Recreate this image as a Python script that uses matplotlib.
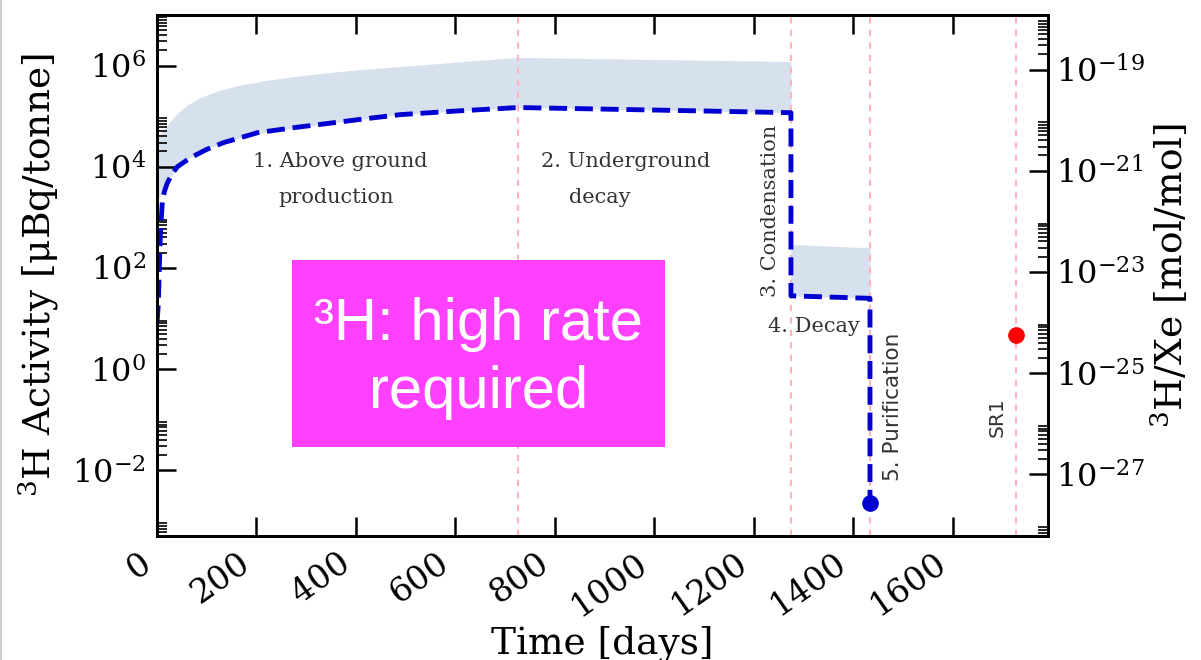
import matplotlib.pyplot as plt
import numpy as np
from matplotlib.patches import Rectangle
from matplotlib.lines import Line2D
from matplotlib.ticker import FixedLocator, LogFormatterSciNotation, NullFormatter

plt.rcParams['font.family'] = 'DejaVu Serif'
plt.rcParams['mathtext.fontset'] = 'dejavuserif'

# activity [uBq/tonne] -> 3H/Xe [mol/mol]
act_to_ratio = 1.2e-25

# best estimate, dashed curve
t_line = [0, 2, 3, 5, 7, 11, 16, 21, 30, 41, 67, 100, 134, 170, 202, 280, 355,
          420, 489, 600, 727, 1000, 1275, 1275, 1434, 1434]
act_line = [8, 15, 23, 130, 490, 2200, 3500, 4800, 7100, 1.0e4, 1.5e4, 2.2e4,
            3.0e4, 3.8e4, 4.7e4, 6.0e4, 7.4e4, 8.9e4, 1.07e5, 1.26e5, 1.48e5,
            1.32e5, 1.17e5, 28, 25, 2.2e-3]

# uncertainty band, phases 1-2
t_band1 = [0, 5, 15, 27, 40, 61, 85, 122, 170, 222, 290, 355, 420, 489, 600,
           727, 1000, 1275]
band1_lo = [2.0e3, 2.5e3, 4.0e3, 6.0e3, 9.5e3, 1.41e4, 1.91e4, 2.75e4, 3.8e4,
            4.9e4, 6.0e4, 7.4e4, 8.9e4, 1.07e5, 1.26e5, 1.48e5, 1.32e5, 1.17e5]
band1_hi = [3.16e4, 4.17e4, 5.75e4, 7.94e4, 1.12e5, 1.66e5, 2.29e5, 3.16e5,
            4.17e5, 5.13e5, 6.31e5, 7.41e5, 8.51e5, 9.55e5, 1.17e6, 1.45e6,
            1.32e6, 1.20e6]

# uncertainty band, phase 4
t_band2 = [1275, 1434]
band2_lo = [28, 25]
band2_hi = [290, 250]

# phase boundaries
t_phase = [727, 1275, 1434, 1727]

# end of purification and SR1 measurement
t_purified, act_purified = 1434, 2.2e-3
t_sr1, act_sr1 = 1727, 4.7

xticks = [0, 200, 400, 600, 800, 1000, 1200, 1400, 1600]

fig = plt.figure(figsize=(12.01, 6.6), dpi=100)
ax = fig.add_axes([0.1307, 0.1879, 0.7419, 0.7894])

ax.fill_between(t_band1, band1_lo, band1_hi, color='lightsteelblue', alpha=0.5, lw=0)
ax.fill_between(t_band2, band2_lo, band2_hi, color='lightsteelblue', alpha=0.5, lw=0)
ax.plot(t_line, act_line, color='#0000d0', lw=3.5, ls='--', zorder=3)
ax.plot([t_purified], [act_purified], 'o', color='#0000d0', ms=11, zorder=4)
ax.plot([t_sr1], [act_sr1], 'o', color='red', ms=11, zorder=4)
for tp in t_phase:
    ax.axvline(tp, color='#ffb3bd', lw=1.5, ls=(0, (3, 3)), zorder=1)

txt = dict(color='#333333', fontsize=15)
ax.text(369, 1.26e4, "1. Above ground", ha='center', va='center', **txt)
ax.text(361, 2.44e3, "production", ha='center', va='center', **txt)
ax.text(942, 1.26e4, "2. Underground", ha='center', va='center', **txt)
ax.text(891, 2.44e3, "decay", ha='center', va='center', **txt)
ax.text(1233, 1.35e3, "3. Condensation", rotation=90, ha='center', va='center', **txt)
ax.text(1322, 6.8, "4. Decay", ha='center', va='center', **txt)
ax.text(1480, 0.178, "5. Purification", rotation=90, ha='center', va='center',
        family='DejaVu Sans', color='#333333', fontsize=15.5)
ax.text(1690, 0.112, "SR1", rotation=90, ha='center', va='center',
        family='DejaVu Sans', color='#333333', fontsize=14.5)

ax.set_xlim(0, 1792)
ax.set_yscale('log')
ax.set_ylim(5e-4, 1e7)
ax.set_xticks(xticks)
ax.set_xticklabels([str(x) for x in xticks], rotation=35, ha='right')
ax.yaxis.set_major_locator(FixedLocator([1e-2, 1, 1e2, 1e4, 1e6]))
ax.yaxis.set_major_formatter(LogFormatterSciNotation())
ax.yaxis.set_minor_locator(FixedLocator([k * 10.0**j for j in (-4, -2, 0, 2, 4, 6) for k in range(2, 10)]))
ax.yaxis.set_minor_formatter(NullFormatter())
ax.set_xlabel("Time [days]", fontsize=27, labelpad=2)
ax.set_ylabel(r"$^{3}$H Activity [$\mathrm{\mu}$Bq/tonne]", fontsize=27, labelpad=8)
ax.tick_params(axis='both', which='major', direction='in', length=14, width=1.8,
               labelsize=23, pad=8, top=True, right=False)
ax.tick_params(axis='x', which='major', labelsize=24)
ax.tick_params(axis='y', which='minor', direction='in', length=7, width=1.2, right=False)
ax.tick_params(axis='x', which='minor', bottom=False, top=False)

ax2 = ax.twinx()
ax2.set_yscale('log')
ax2.set_ylim(5e-4 * act_to_ratio, 1e7 * act_to_ratio)
ax2.yaxis.set_major_locator(FixedLocator([10.0**j for j in (-27, -25, -23, -21, -19)]))
ax2.yaxis.set_major_formatter(LogFormatterSciNotation())
ax2.yaxis.set_minor_locator(FixedLocator([k * 10.0**j for j in (-29, -27, -25, -23, -21, -19) for k in range(2, 10)]))
ax2.yaxis.set_minor_formatter(NullFormatter())
ax2.tick_params(axis='y', which='major', direction='in', length=14, width=1.8, labelsize=23, pad=6)
ax2.tick_params(axis='y', which='minor', direction='in', length=7, width=1.2)
ax2.set_ylabel(r"$^{3}$H/Xe [mol/mol]", fontsize=27, labelpad=3)

for a in (ax, ax2):
    for sp in a.spines.values():
        sp.set_linewidth(2)

# overlay box
fig.add_artist(Rectangle((0.2431, 0.3227), 0.3106, 0.2833, transform=fig.transFigure,
                         facecolor='#ff40ff', edgecolor='none', zorder=10))
fig.text(0.3984, 0.4848, "³H: high rate", ha='center', va='baseline', color='white',
         fontsize=43, family='Liberation Sans', zorder=11)
fig.text(0.3984, 0.3818, "required", ha='center', va='baseline', color='white',
         fontsize=43, family='Liberation Sans', zorder=11)
fig.add_artist(Line2D([0.001, 0.001], [0, 1], transform=fig.transFigure, color='#c8cdd2', lw=1.5))

fig.savefig('out.png', dpi=100)
